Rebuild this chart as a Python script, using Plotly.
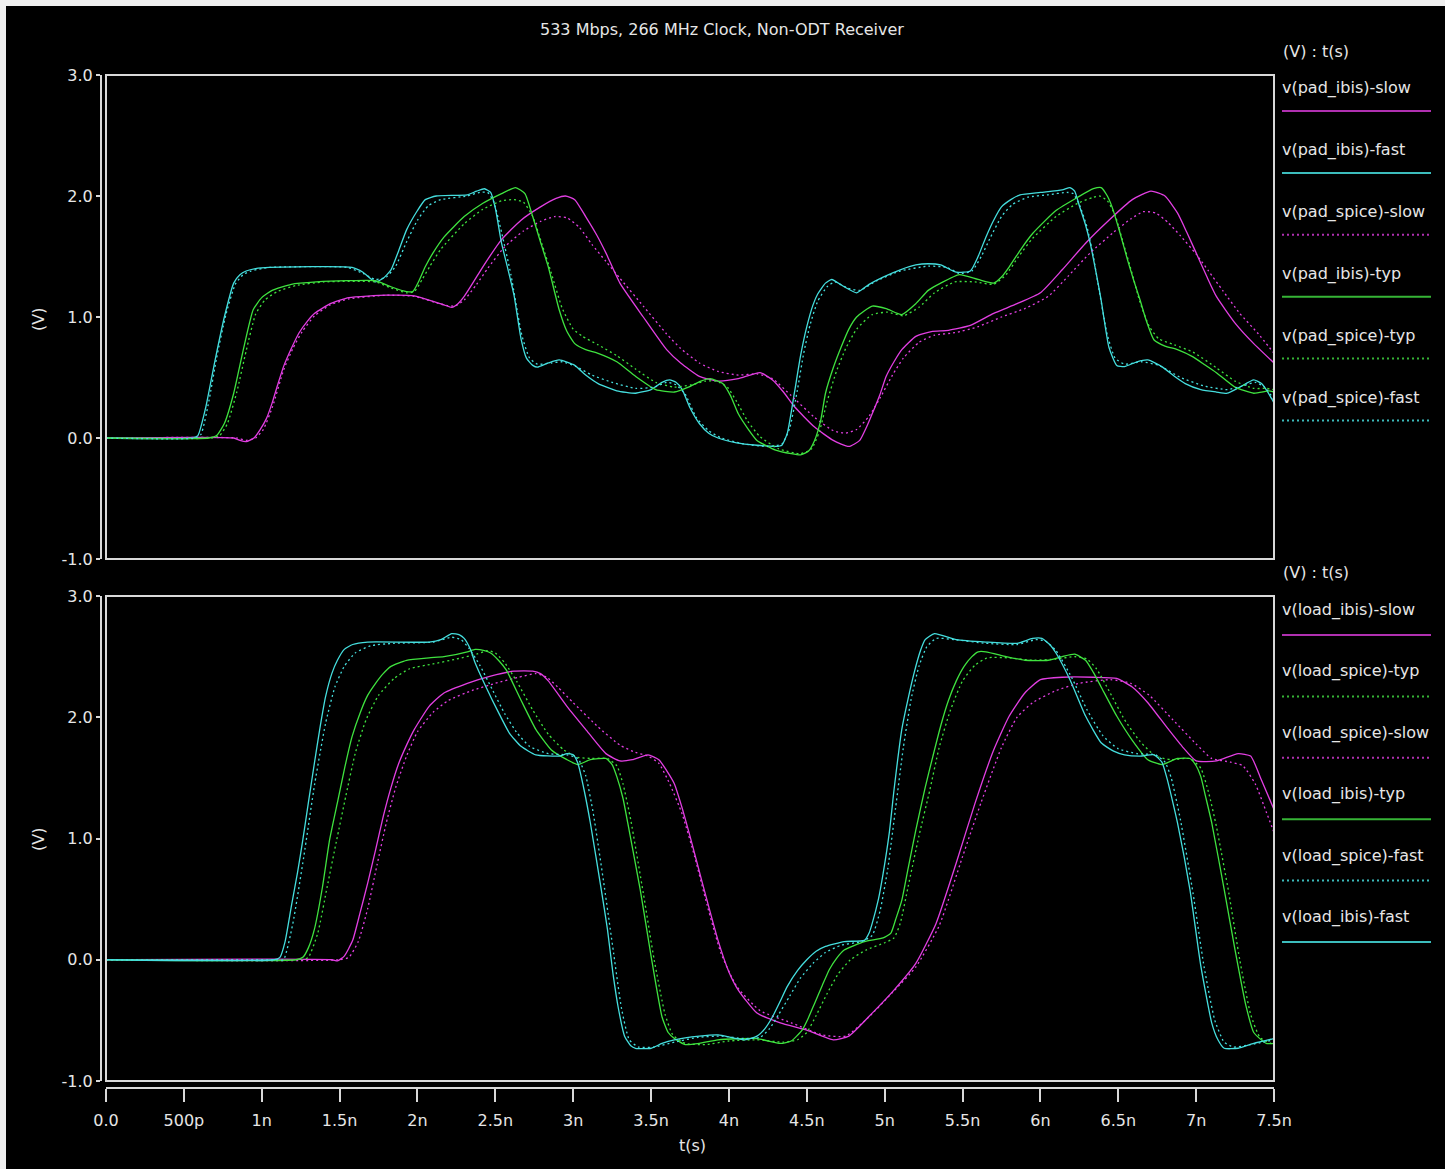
import plotly.graph_objects as go

# ---------------- data (time in ns, voltage in V) ----------------
TITLE = "533 Mbps, 266 MHz Clock, Non-ODT Receiver"
X_TICK_VALS = [0, 0.5, 1, 1.5, 2, 2.5, 3, 3.5, 4, 4.5, 5, 5.5, 6, 6.5, 7, 7.5]
X_TICK_TEXT = ["0.0", "500p", "1n", "1.5n", "2n", "2.5n", "3n", "3.5n", "4n", "4.5n",
               "5n", "5.5n", "6n", "6.5n", "7n", "7.5n"]
Y_TICK_VALS = [-1, 0, 1, 2, 3]
Y_TICK_TEXT = ["-1.0", "0.0", "1.0", "2.0", "3.0"]

pad_ibis_slow = [(0, 0), (0.82, 0), (0.86, -0.02), (0.90, -0.03), (0.95, 0.0), (0.99, 0.07), (1.03, 0.16),
                 (1.067, 0.29), (1.10, 0.43), (1.14, 0.59), (1.19, 0.74), (1.24, 0.87), (1.29, 0.96),
                 (1.34, 1.03), (1.44, 1.11), (1.56, 1.16), (1.80, 1.18), (1.98, 1.175), (2.10, 1.13),
                 (2.17, 1.10), (2.22, 1.08), (2.26, 1.11), (2.30, 1.17), (2.36, 1.29), (2.42, 1.415),
                 (2.54, 1.64), (2.665, 1.80), (2.79, 1.91), (2.89, 1.98), (2.95, 2.0), (3.01, 1.97),
                 (3.08, 1.83), (3.15, 1.68), (3.21, 1.53), (3.30, 1.28), (3.45, 1.0), (3.60, 0.73),
                 (3.69, 0.62), (3.81, 0.51), (3.93, 0.47), (4.06, 0.49), (4.20, 0.54), (4.28, 0.48),
                 (4.35, 0.38), (4.42, 0.26), (4.55, 0.09), (4.67, -0.02), (4.77, -0.07), (4.84, -0.02),
                 (4.88, 0.08), (4.92, 0.20), (4.97, 0.36), (5.01, 0.51), (5.06, 0.63), (5.11, 0.73),
                 (5.20, 0.84), (5.30, 0.88), (5.41, 0.89), (5.55, 0.93), (5.70, 1.03), (5.85, 1.11),
                 (6.0, 1.20), (6.14, 1.39), (6.29, 1.61), (6.44, 1.80), (6.59, 1.97), (6.71, 2.04),
                 (6.80, 2.0), (6.88, 1.86), (6.94, 1.70), (7.00, 1.53), (7.07, 1.33), (7.13, 1.17),
                 (7.25, 0.95), (7.37, 0.78), (7.50, 0.62)]

pad_ibis_fast = [(0, 0), (0.55, 0), (0.59, 0.02), (0.64, 0.25), (0.70, 0.64), (0.76, 1.0), (0.82, 1.28),
                 (0.86, 1.35), (0.90, 1.38), (0.96, 1.40), (1.05, 1.41), (1.58, 1.41), (1.65, 1.37),
                 (1.73, 1.29), (1.78, 1.32), (1.83, 1.39), (1.88, 1.55), (1.93, 1.72), (2.0, 1.88),
                 (2.05, 1.97), (2.12, 2.0), (2.32, 2.01), (2.38, 2.04), (2.43, 2.06), (2.47, 2.03),
                 (2.50, 1.90), (2.54, 1.61), (2.58, 1.40), (2.62, 1.18), (2.665, 0.82), (2.70, 0.66),
                 (2.74, 0.60), (2.77, 0.585), (2.84, 0.62), (2.91, 0.645), (3.01, 0.60), (3.08, 0.52),
                 (3.16, 0.45), (3.28, 0.39), (3.40, 0.37), (3.50, 0.40), (3.57, 0.46), (3.62, 0.48),
                 (3.66, 0.46), (3.70, 0.40), (3.75, 0.25), (3.81, 0.12), (3.87, 0.04), (3.93, 0.0),
                 (4.05, -0.04), (4.18, -0.06), (4.30, -0.07), (4.34, -0.06), (4.375, 0.04), (4.42, 0.37),
                 (4.46, 0.68), (4.50, 0.92), (4.54, 1.10), (4.57, 1.19), (4.62, 1.28), (4.66, 1.31),
                 (4.74, 1.25), (4.82, 1.20), (4.90, 1.27), (4.99, 1.33), (5.10, 1.39), (5.20, 1.43),
                 (5.28, 1.44), (5.36, 1.43), (5.46, 1.37), (5.55, 1.38), (5.60, 1.50), (5.65, 1.66),
                 (5.70, 1.80), (5.75, 1.91), (5.81, 1.97), (5.87, 2.01), (6.00, 2.03), (6.14, 2.05),
                 (6.19, 2.07), (6.22, 2.04), (6.25, 1.92), (6.29, 1.76), (6.32, 1.61), (6.36, 1.35),
                 (6.39, 1.14), (6.44, 0.75), (6.49, 0.60), (6.54, 0.59), (6.62, 0.63), (6.69, 0.645),
                 (6.78, 0.59), (6.86, 0.51), (6.93, 0.45), (7.03, 0.40), (7.13, 0.38), (7.20, 0.37),
                 (7.28, 0.42), (7.37, 0.48), (7.42, 0.45), (7.46, 0.38), (7.50, 0.29)]

pad_spice_slow = [(0, 0), (0.84, 0), (0.90, -0.02), (0.96, 0.0), (1.01, 0.07), (1.07, 0.26), (1.14, 0.56),
                  (1.20, 0.74), (1.26, 0.88), (1.34, 1.01), (1.44, 1.10), (1.56, 1.15), (1.80, 1.18),
                  (1.98, 1.17), (2.17, 1.10), (2.24, 1.09), (2.30, 1.14), (2.38, 1.27), (2.45, 1.40),
                  (2.56, 1.58), (2.68, 1.71), (2.79, 1.79), (2.88, 1.83), (2.96, 1.82), (3.04, 1.74),
                  (3.12, 1.60), (3.21, 1.46), (3.30, 1.32), (3.45, 1.09), (3.60, 0.86), (3.69, 0.74),
                  (3.81, 0.62), (3.93, 0.55), (4.06, 0.52), (4.18, 0.53), (4.28, 0.49), (4.40, 0.35),
                  (4.55, 0.17), (4.67, 0.06), (4.75, 0.04), (4.82, 0.07), (4.90, 0.18), (4.97, 0.33),
                  (5.05, 0.52), (5.12, 0.66), (5.22, 0.79), (5.32, 0.85), (5.45, 0.87), (5.60, 0.92),
                  (5.75, 1.0), (5.90, 1.07), (6.05, 1.17), (6.18, 1.34), (6.32, 1.53), (6.47, 1.70),
                  (6.58, 1.81), (6.66, 1.87), (6.74, 1.86), (6.82, 1.78), (6.90, 1.67), (7.0, 1.52),
                  (7.08, 1.38), (7.17, 1.22), (7.28, 1.03), (7.40, 0.86), (7.50, 0.70)]

pad_ibis_typ = [(0, 0), (0.66, 0), (0.71, 0.02), (0.76, 0.12), (0.82, 0.37), (0.88, 0.72), (0.945, 1.06),
                (1.0, 1.16), (1.067, 1.22), (1.19, 1.27), (1.35, 1.29), (1.55, 1.30), (1.73, 1.30),
                (1.83, 1.25), (1.93, 1.21), (1.97, 1.21), (2.01, 1.30), (2.05, 1.415), (2.10, 1.53),
                (2.17, 1.66), (2.30, 1.83), (2.42, 1.94), (2.54, 2.02), (2.63, 2.07), (2.69, 2.02),
                (2.74, 1.83), (2.79, 1.62), (2.84, 1.415), (2.91, 1.06), (2.96, 0.88), (3.01, 0.78),
                (3.08, 0.73), (3.16, 0.70), (3.28, 0.63), (3.40, 0.51), (3.53, 0.40), (3.65, 0.38),
                (3.74, 0.42), (3.82, 0.47), (3.88, 0.49), (3.96, 0.45), (4.01, 0.35), (4.06, 0.20),
                (4.12, 0.08), (4.18, -0.02), (4.30, -0.10), (4.40, -0.13), (4.46, -0.14), (4.51, -0.11),
                (4.55, -0.02), (4.59, 0.15), (4.62, 0.37), (4.67, 0.58), (4.72, 0.75), (4.77, 0.90),
                (4.82, 1.0), (4.92, 1.09), (5.01, 1.07), (5.11, 1.02), (5.20, 1.11), (5.28, 1.22),
                (5.36, 1.28), (5.48, 1.35), (5.60, 1.31), (5.70, 1.28), (5.75, 1.33), (5.80, 1.415),
                (5.88, 1.57), (5.95, 1.69), (6.10, 1.88), (6.24, 1.99), (6.34, 2.06), (6.39, 2.07),
                (6.43, 2.0), (6.46, 1.91), (6.51, 1.70), (6.56, 1.47), (6.60, 1.30), (6.64, 1.14),
                (6.68, 0.97), (6.73, 0.81), (6.80, 0.76), (6.88, 0.73), (6.98, 0.67), (7.05, 0.61),
                (7.13, 0.54), (7.25, 0.42), (7.37, 0.37), (7.47, 0.39), (7.50, 0.38)]

pad_spice_typ = [(0, 0), (0.68, 0), (0.73, 0.02), (0.78, 0.12), (0.84, 0.38), (0.90, 0.72), (0.96, 1.02),
                 (1.02, 1.14), (1.10, 1.21), (1.22, 1.26), (1.40, 1.29), (1.73, 1.29), (1.83, 1.24),
                 (1.93, 1.20), (1.98, 1.21), (2.03, 1.31), (2.08, 1.42), (2.15, 1.56), (2.30, 1.77),
                 (2.42, 1.89), (2.54, 1.96), (2.62, 1.97), (2.68, 1.95), (2.74, 1.83), (2.80, 1.60),
                 (2.86, 1.36), (2.93, 1.07), (3.0, 0.90), (3.06, 0.84), (3.16, 0.77), (3.28, 0.68),
                 (3.40, 0.57), (3.53, 0.46), (3.65, 0.42), (3.76, 0.44), (3.85, 0.47), (3.92, 0.47),
                 (3.99, 0.42), (4.05, 0.30), (4.12, 0.14), (4.20, 0.01), (4.32, -0.09), (4.46, -0.13),
                 (4.53, -0.09), (4.58, 0.05), (4.63, 0.30), (4.69, 0.55), (4.75, 0.74), (4.82, 0.90),
                 (4.92, 1.02), (5.02, 1.04), (5.12, 1.01), (5.22, 1.08), (5.32, 1.20), (5.45, 1.29),
                 (5.58, 1.29), (5.70, 1.27), (5.78, 1.35), (5.86, 1.50), (5.95, 1.65), (6.10, 1.83),
                 (6.24, 1.94), (6.34, 1.99), (6.38, 2.0), (6.43, 1.96), (6.48, 1.84), (6.53, 1.62),
                 (6.58, 1.40), (6.64, 1.12), (6.70, 0.92), (6.76, 0.82), (6.86, 0.77), (6.98, 0.71),
                 (7.13, 0.58), (7.25, 0.47), (7.37, 0.41), (7.45, 0.41), (7.50, 0.40)]

pad_spice_fast = [(0, 0), (0.57, 0), (0.61, 0.03), (0.66, 0.30), (0.71, 0.66), (0.77, 1.02), (0.83, 1.27),
                  (0.88, 1.35), (0.93, 1.38), (1.0, 1.40), (1.05, 1.41), (1.55, 1.41), (1.65, 1.36),
                  (1.73, 1.31), (1.80, 1.33), (1.86, 1.42), (1.93, 1.62), (2.0, 1.80), (2.07, 1.92),
                  (2.15, 1.97), (2.32, 2.0), (2.40, 2.03), (2.45, 2.03), (2.49, 1.95), (2.54, 1.70),
                  (2.60, 1.35), (2.67, 0.85), (2.72, 0.66), (2.77, 0.61), (2.86, 0.62), (2.93, 0.63),
                  (3.02, 0.59), (3.12, 0.52), (3.25, 0.46), (3.40, 0.41), (3.52, 0.42), (3.60, 0.46),
                  (3.66, 0.44), (3.72, 0.36), (3.79, 0.17), (3.87, 0.06), (3.95, 0.0), (4.10, -0.05),
                  (4.25, -0.07), (4.34, -0.05), (4.39, 0.08), (4.44, 0.40), (4.48, 0.70), (4.52, 0.93),
                  (4.57, 1.13), (4.63, 1.25), (4.68, 1.29), (4.76, 1.24), (4.84, 1.22), (4.95, 1.30),
                  (5.10, 1.38), (5.28, 1.42), (5.40, 1.41), (5.48, 1.36), (5.56, 1.38), (5.62, 1.50),
                  (5.68, 1.66), (5.75, 1.83), (5.82, 1.93), (5.92, 1.99), (6.05, 2.01), (6.17, 2.03),
                  (6.21, 2.02), (6.25, 1.93), (6.30, 1.74), (6.34, 1.50), (6.38, 1.20), (6.43, 0.85),
                  (6.48, 0.66), (6.54, 0.61), (6.65, 0.63), (6.76, 0.60), (6.90, 0.50), (7.05, 0.43),
                  (7.20, 0.40), (7.30, 0.43), (7.38, 0.46), (7.44, 0.42), (7.50, 0.32)]

load_ibis_slow = [(0, 0), (1.45, 0), (1.486, -0.01), (1.53, 0.03), (1.584, 0.16), (1.63, 0.38), (1.68, 0.63),
                  (1.73, 0.90), (1.78, 1.18), (1.83, 1.42), (1.88, 1.62), (1.93, 1.77), (1.98, 1.90),
                  (2.075, 2.09), (2.17, 2.20), (2.32, 2.28), (2.47, 2.34), (2.62, 2.38), (2.74, 2.38),
                  (2.79, 2.36), (2.84, 2.30), (2.96, 2.09), (3.08, 1.90), (3.21, 1.70), (3.30, 1.64),
                  (3.38, 1.65), (3.48, 1.69), (3.55, 1.65), (3.60, 1.56), (3.65, 1.45), (3.70, 1.25),
                  (3.75, 1.02), (3.83, 0.63), (3.93, 0.16), (4.0, -0.10), (4.06, -0.25), (4.18, -0.44),
                  (4.33, -0.52), (4.50, -0.58), (4.67, -0.66), (4.77, -0.63), (4.92, -0.44), (5.06, -0.25),
                  (5.20, -0.03), (5.33, 0.30), (5.46, 0.80), (5.58, 1.29), (5.70, 1.73), (5.80, 2.01),
                  (5.90, 2.20), (6.0, 2.31), (6.14, 2.33), (6.34, 2.33), (6.49, 2.32), (6.59, 2.25),
                  (6.69, 2.12), (6.81, 1.92), (6.91, 1.76), (7.0, 1.64), (7.13, 1.64), (7.27, 1.70),
                  (7.35, 1.68), (7.42, 1.48), (7.50, 1.24)]

load_spice_typ = [(0, 0), (1.26, 0), (1.30, 0.02), (1.36, 0.22), (1.42, 0.60), (1.48, 0.98), (1.54, 1.35),
                  (1.60, 1.70), (1.67, 1.98), (1.75, 2.18), (1.85, 2.32), (1.95, 2.40), (2.10, 2.44),
                  (2.25, 2.48), (2.38, 2.52), (2.45, 2.55), (2.50, 2.53), (2.56, 2.45), (2.64, 2.29),
                  (2.74, 2.06), (2.84, 1.86), (2.94, 1.73), (3.03, 1.67), (3.12, 1.66), (3.22, 1.66),
                  (3.28, 1.60), (3.32, 1.45), (3.37, 1.15), (3.45, 0.55), (3.52, 0.0), (3.59, -0.45),
                  (3.64, -0.62), (3.72, -0.69), (3.85, -0.70), (4.0, -0.67), (4.18, -0.66), (4.35, -0.68),
                  (4.44, -0.66), (4.50, -0.60), (4.56, -0.46), (4.63, -0.28), (4.70, -0.12), (4.78, 0.0),
                  (4.88, 0.08), (5.0, 0.14), (5.06, 0.18), (5.10, 0.30), (5.15, 0.60), (5.22, 1.02),
                  (5.29, 1.40), (5.35, 1.75), (5.42, 2.05), (5.50, 2.30), (5.58, 2.43), (5.66, 2.49),
                  (5.80, 2.49), (5.95, 2.47), (6.10, 2.48), (6.22, 2.50), (6.30, 2.48), (6.36, 2.40),
                  (6.44, 2.22), (6.54, 1.98), (6.64, 1.80), (6.74, 1.68), (6.84, 1.65), (6.96, 1.66),
                  (7.03, 1.58), (7.08, 1.38), (7.13, 1.10), (7.21, 0.55), (7.28, 0.0), (7.35, -0.45),
                  (7.41, -0.64), (7.50, -0.70)]

load_spice_slow = [(0, 0), (1.50, 0), (1.56, 0.02), (1.62, 0.15), (1.68, 0.42), (1.74, 0.78), (1.80, 1.13),
                   (1.86, 1.42), (1.93, 1.68), (2.0, 1.88), (2.1, 2.04), (2.2, 2.14), (2.35, 2.22),
                   (2.5, 2.28), (2.65, 2.33), (2.76, 2.36), (2.83, 2.33), (2.90, 2.25), (3.0, 2.12),
                   (3.16, 1.92), (3.30, 1.77), (3.40, 1.71), (3.48, 1.68), (3.55, 1.62), (3.62, 1.45),
                   (3.70, 1.20), (3.78, 0.85), (3.86, 0.45), (3.95, 0.05), (4.05, -0.22), (4.20, -0.42),
                   (4.40, -0.52), (4.60, -0.62), (4.75, -0.63), (4.90, -0.47), (5.05, -0.27), (5.20, -0.06),
                   (5.35, 0.28), (5.50, 0.85), (5.62, 1.30), (5.75, 1.75), (5.85, 2.0), (5.95, 2.12),
                   (6.10, 2.22), (6.25, 2.28), (6.45, 2.31), (6.58, 2.28), (6.70, 2.18), (6.85, 1.98),
                   (7.0, 1.78), (7.10, 1.66), (7.22, 1.63), (7.30, 1.60), (7.38, 1.45), (7.45, 1.22),
                   (7.50, 1.05)]

load_ibis_typ = [(0, 0), (1.22, 0), (1.264, 0.02), (1.30, 0.10), (1.338, 0.25), (1.39, 0.60), (1.436, 0.99),
                 (1.49, 1.32), (1.534, 1.59), (1.58, 1.84), (1.633, 2.04), (1.68, 2.18), (1.731, 2.28),
                 (1.78, 2.36), (1.83, 2.42), (1.93, 2.47), (2.075, 2.49), (2.17, 2.50), (2.32, 2.54),
                 (2.37, 2.56), (2.43, 2.55), (2.47, 2.53), (2.52, 2.47), (2.57, 2.39), (2.665, 2.14),
                 (2.76, 1.90), (2.86, 1.73), (2.96, 1.65), (3.03, 1.61), (3.11, 1.65), (3.21, 1.66),
                 (3.25, 1.61), (3.28, 1.51), (3.32, 1.33), (3.35, 1.13), (3.43, 0.58), (3.50, 0.03),
                 (3.57, -0.47), (3.61, -0.60), (3.65, -0.65), (3.72, -0.70), (3.81, -0.69), (3.93, -0.66),
                 (4.18, -0.65), (4.33, -0.69), (4.40, -0.67), (4.47, -0.58), (4.51, -0.48), (4.55, -0.36),
                 (4.60, -0.21), (4.645, -0.08), (4.69, 0.01), (4.74, 0.08), (4.87, 0.15), (4.99, 0.18),
                 (5.04, 0.22), (5.07, 0.33), (5.11, 0.49), (5.15, 0.75), (5.20, 1.07), (5.26, 1.42),
                 (5.31, 1.68), (5.36, 1.93), (5.41, 2.14), (5.46, 2.30), (5.51, 2.42), (5.56, 2.50),
                 (5.60, 2.54), (5.65, 2.54), (5.78, 2.50), (5.90, 2.47), (6.05, 2.47), (6.14, 2.50),
                 (6.22, 2.52), (6.29, 2.47), (6.34, 2.37), (6.39, 2.25), (6.49, 2.01), (6.59, 1.81),
                 (6.69, 1.65), (6.78, 1.61), (6.88, 1.66), (6.96, 1.66), (7.0, 1.60), (7.03, 1.51),
                 (7.06, 1.35), (7.10, 1.13), (7.18, 0.58), (7.25, 0.08), (7.32, -0.38), (7.37, -0.60),
                 (7.45, -0.69), (7.50, -0.69)]

load_spice_fast = [(0, 0), (1.10, 0), (1.14, 0.0), (1.20, 0.30), (1.27, 0.85), (1.34, 1.45), (1.41, 1.95),
                   (1.47, 2.25), (1.53, 2.42), (1.60, 2.53), (1.70, 2.59), (1.85, 2.61), (2.10, 2.62),
                   (2.22, 2.66), (2.28, 2.64), (2.33, 2.57), (2.40, 2.43), (2.48, 2.23), (2.56, 2.03),
                   (2.64, 1.87), (2.72, 1.76), (2.84, 1.70), (2.96, 1.69), (3.03, 1.66), (3.08, 1.52),
                   (3.13, 1.20), (3.20, 0.60), (3.26, 0.05), (3.31, -0.40), (3.36, -0.66), (3.42, -0.72),
                   (3.52, -0.72), (3.65, -0.68), (3.80, -0.64), (3.95, -0.63), (4.10, -0.65), (4.20, -0.64),
                   (4.26, -0.57), (4.32, -0.45), (4.39, -0.30), (4.46, -0.15), (4.54, -0.03), (4.62, 0.06),
                   (4.72, 0.12), (4.85, 0.15), (4.92, 0.20), (4.97, 0.40), (5.02, 0.75), (5.07, 1.25),
                   (5.12, 1.75), (5.17, 2.15), (5.22, 2.42), (5.27, 2.58), (5.33, 2.65), (5.45, 2.64),
                   (5.65, 2.61), (5.85, 2.60), (5.97, 2.64), (6.03, 2.63), (6.10, 2.55), (6.20, 2.33),
                   (6.30, 2.06), (6.40, 1.85), (6.50, 1.74), (6.62, 1.70), (6.74, 1.69), (6.80, 1.63),
                   (6.84, 1.50), (6.90, 1.15), (6.98, 0.55), (7.05, -0.05), (7.12, -0.50), (7.18, -0.68),
                   (7.24, -0.72), (7.35, -0.70), (7.50, -0.66)]

load_ibis_fast = [(0, 0), (1.08, 0), (1.117, 0.02), (1.15, 0.15), (1.19, 0.44), (1.23, 0.72), (1.264, 0.99),
                  (1.30, 1.30), (1.338, 1.62), (1.375, 1.92), (1.41, 2.17), (1.45, 2.36), (1.486, 2.47),
                  (1.53, 2.56), (1.584, 2.60), (1.68, 2.62), (2.075, 2.62), (2.15, 2.64), (2.22, 2.69),
                  (2.27, 2.68), (2.30, 2.65), (2.34, 2.56), (2.37, 2.45), (2.44, 2.25), (2.52, 2.04),
                  (2.59, 1.87), (2.665, 1.76), (2.76, 1.69), (2.91, 1.68), (2.96, 1.70), (3.0, 1.69),
                  (3.03, 1.62), (3.07, 1.40), (3.11, 1.13), (3.18, 0.58), (3.22, 0.25), (3.255, -0.11),
                  (3.29, -0.40), (3.33, -0.63), (3.37, -0.71), (3.40, -0.73), (3.50, -0.73), (3.57, -0.69),
                  (3.65, -0.66), (3.81, -0.63), (3.93, -0.62), (4.10, -0.66), (4.18, -0.63), (4.23, -0.57),
                  (4.28, -0.47), (4.33, -0.34), (4.375, -0.22), (4.44, -0.09), (4.50, 0.0), (4.56, 0.07),
                  (4.62, 0.11), (4.74, 0.15), (4.87, 0.16), (4.90, 0.22), (4.92, 0.30), (4.96, 0.50),
                  (4.99, 0.71), (5.03, 1.05), (5.06, 1.40), (5.11, 1.90), (5.15, 2.15), (5.19, 2.37),
                  (5.23, 2.55), (5.26, 2.64), (5.32, 2.69), (5.46, 2.64), (5.65, 2.62), (5.85, 2.61),
                  (5.95, 2.65), (6.01, 2.65), (6.06, 2.60), (6.10, 2.53), (6.19, 2.31), (6.29, 2.01),
                  (6.39, 1.79), (6.47, 1.72), (6.54, 1.69), (6.64, 1.68), (6.73, 1.69), (6.78, 1.63),
                  (6.81, 1.51), (6.85, 1.30), (6.88, 1.13), (6.96, 0.58), (7.03, -0.05), (7.10, -0.52),
                  (7.14, -0.66), (7.18, -0.73), (7.27, -0.73), (7.37, -0.69), (7.50, -0.65)]

# legend order as in the picture: (name, series, colour key, solid/dotted)
TOP_SERIES = [("v(pad_ibis)-slow", pad_ibis_slow, "mag", "solid"),
              ("v(pad_ibis)-fast", pad_ibis_fast, "cyan", "solid"),
              ("v(pad_spice)-slow", pad_spice_slow, "mag", "dot"),
              ("v(pad_ibis)-typ", pad_ibis_typ, "green", "solid"),
              ("v(pad_spice)-typ", pad_spice_typ, "green", "dot"),
              ("v(pad_spice)-fast", pad_spice_fast, "cyan", "dot")]
BOTTOM_SERIES = [("v(load_ibis)-slow", load_ibis_slow, "mag", "solid"),
                 ("v(load_spice)-typ", load_spice_typ, "green", "dot"),
                 ("v(load_spice)-slow", load_spice_slow, "mag", "dot"),
                 ("v(load_ibis)-typ", load_ibis_typ, "green", "solid"),
                 ("v(load_spice)-fast", load_spice_fast, "cyan", "dot"),
                 ("v(load_ibis)-fast", load_ibis_fast, "cyan", "solid")]

# ---------------- styling ----------------
W, H = 1445, 1169
PL, PR, PT, PB = 101, 1274, 75, 1088     # plotting area in pixels
TRACE_COL = {"mag": "#e23fe2", "cyan": "#45dede", "green": "#3fe23f"}
LEG_COL = {"mag": "#b030b0", "cyan": "#3cbcbc", "green": "#36b436"}
DASH = {"solid": "solid", "dot": "2px,3px"}
TXT = "#e6e6e6"
AX = "#d9d9d9"
FONT = "DejaVu Sans"
FS = 16


def px(xp):
    return (xp - PL) / (PR - PL)


def py(yp):
    return (PB - yp) / (PB - PT)


fig = go.Figure()

for name, series, ck, ds in TOP_SERIES:
    fig.add_trace(go.Scatter(x=[p[0] for p in series], y=[p[1] for p in series], name=name,
                             mode="lines", xaxis="x2", yaxis="y2",
                             line=dict(color=TRACE_COL[ck], width=1.3, dash=DASH[ds],
                                       shape="spline", smoothing=0.5)))
for name, series, ck, ds in BOTTOM_SERIES:
    fig.add_trace(go.Scatter(x=[p[0] for p in series], y=[p[1] for p in series], name=name,
                             mode="lines", xaxis="x", yaxis="y",
                             line=dict(color=TRACE_COL[ck], width=1.3, dash=DASH[ds],
                                       shape="spline", smoothing=0.5)))

xdom = [px(106), 1.0]
top_dom = [py(559), 1.0]
bot_dom = [py(1081), py(596)]

yax_common = dict(range=[-1, 3], tickvals=Y_TICK_VALS, ticktext=Y_TICK_TEXT, showgrid=False,
                  zeroline=False, showline=True, linecolor=AX, linewidth=2, ticks="outside",
                  ticklen=4, tickcolor=AX, tickwidth=2, anchor="free", position=0,
                  tickfont=dict(family=FONT, size=FS, color=TXT))

fig.update_layout(
    width=W, height=H,
    margin=dict(l=PL, r=W - PR, t=PT, b=H - PB, pad=0),
    paper_bgcolor="black", plot_bgcolor="black",
    showlegend=False,
    font=dict(family=FONT, size=FS, color=TXT),
    xaxis=dict(domain=xdom, range=[0, 7.5], tickvals=X_TICK_VALS, ticktext=X_TICK_TEXT,
               showgrid=False, zeroline=False, showline=True, linecolor=AX, linewidth=2,
               ticks="outside", ticklen=13, tickcolor=AX, tickwidth=2, anchor="free", position=0,
               ticklabelstandoff=5, tickfont=dict(family=FONT, size=FS, color=TXT)),
    xaxis2=dict(domain=xdom, range=[0, 7.5], anchor="y2", visible=False, showgrid=False),
    yaxis=dict(domain=bot_dom, **yax_common),
    yaxis2=dict(domain=top_dom, **yax_common),
)

shapes = []
# plot frames
for xr, yr in (("x domain", "y domain"), ("x2 domain", "y2 domain")):
    shapes.append(dict(type="rect", xref=xr, yref=yr, x0=0, x1=1, y0=0, y1=1,
                       line=dict(color=AX, width=2), fillcolor="rgba(0,0,0,0)", layer="above"))
# light border of the screenshot (top and left)
shapes.append(dict(type="rect", xref="paper", yref="paper", x0=px(0), x1=px(6), y0=py(H), y1=py(0),
                   line=dict(width=0), fillcolor="#efefef"))
shapes.append(dict(type="rect", xref="paper", yref="paper", x0=px(0), x1=px(W), y0=py(6), y1=py(0),
                   line=dict(width=0), fillcolor="#efefef"))

annotations = [
    dict(text=TITLE, xref="paper", yref="paper", x=px(722), y=py(29), showarrow=False,
         xanchor="center", yanchor="middle", font=dict(family=FONT, size=FS, color=TXT)),
    dict(text="t(s)", xref="paper", yref="paper", x=px(692), y=py(1145), showarrow=False,
         xanchor="center", yanchor="middle", font=dict(family=FONT, size=FS, color=TXT)),
    dict(text="(V)", xref="paper", yref="paper", x=px(38), y=py(320), showarrow=False, textangle=-90,
         xanchor="center", yanchor="middle", font=dict(family=FONT, size=FS, color=TXT)),
    dict(text="(V)", xref="paper", yref="paper", x=px(38), y=py(840), showarrow=False, textangle=-90,
         xanchor="center", yanchor="middle", font=dict(family=FONT, size=FS, color=TXT)),
]

for series_list, head_y, text_y0, line_y0, step in ((TOP_SERIES, 51.7, 88, 111, 61.9),
                                                    (BOTTOM_SERIES, 572, 610, 635, 61.4)):
    annotations.append(dict(text="(V) : t(s)", xref="paper", yref="paper", x=px(1281), y=py(head_y),
                            showarrow=False, xanchor="left", yanchor="middle",
                            font=dict(family=FONT, size=FS, color=TXT)))
    for i, (name, _, ck, ds) in enumerate(series_list):
        annotations.append(dict(text=name, xref="paper", yref="paper", x=px(1280),
                                y=py(text_y0 + step * i), showarrow=False, xanchor="left",
                                yanchor="middle", font=dict(family=FONT, size=FS, color=TXT)))
        shapes.append(dict(type="line", xref="paper", yref="paper", x0=px(1282), x1=px(1431),
                           y0=py(line_y0 + step * i), y1=py(line_y0 + step * i),
                           line=dict(color=LEG_COL[ck], width=2, dash=DASH[ds])))

fig.update_layout(shapes=shapes, annotations=annotations)
fig.write_html("out.html")
